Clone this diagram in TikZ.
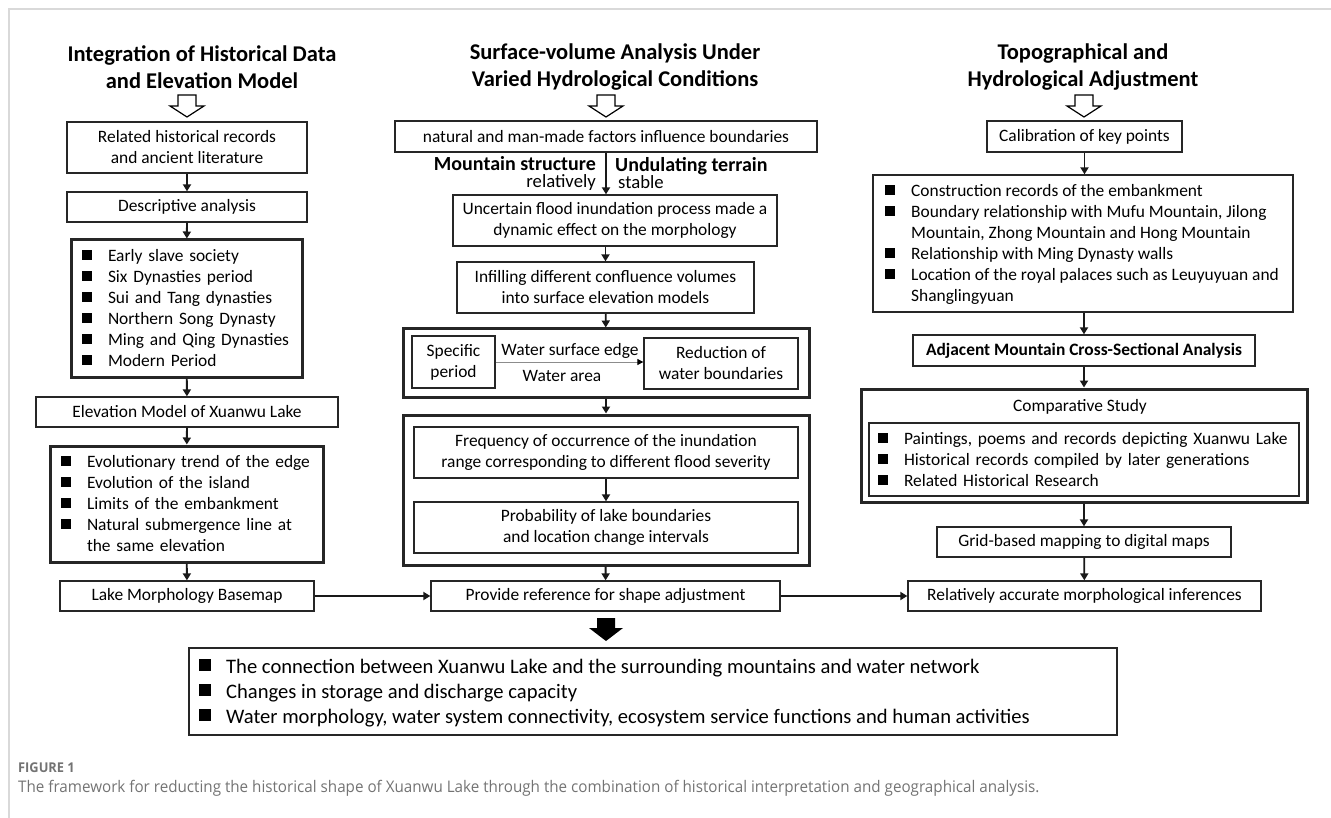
\documentclass[tikz,border=0pt]{standalone}
\usepackage{fontspec}
\setmainfont{Carlito}
\newfontfamily\capfont[FakeStretch=0.95]{Open Sans}
\usetikzlibrary{arrows.meta}
\def\bitem#1{\makebox[26pt][l]{\rule[1.5pt]{10pt}{10pt}}#1}
\def\bcont{\hspace*{26pt}}
\def\bigitem#1{\makebox[27pt][l]{\rule[2pt]{12pt}{12pt}}#1}
\def\hollowarrow#1{\draw[line width=1.2pt, fill=white] ({#1-9},95) -- ({#1+9},95) -- ({#1+9},106) -- ({#1+17},106) -- (#1,117) -- ({#1-17},106) -- ({#1-9},106) -- cycle;}

\begin{document}
\begin{tikzpicture}[x=1pt, y=-1pt,
	box/.style={draw=black!85, line width=1.3pt, inner sep=0pt, align=center, font=\fontsize{17.4}{21}\selectfont},
	thickbox/.style={box, line width=3pt},
	title/.style={font=\fontsize{22.5}{27}\selectfont\bfseries, align=center},
	lbl/.style={inner sep=0pt, font=\fontsize{17.4}{21}\selectfont},
	side/.style={inner sep=0pt, font=\fontsize{18.7}{17}\selectfont},
	arr/.style={line width=1.8pt, draw=black!90, -{Triangle[width=8pt,length=7pt]}}]
	%%%%% START %%%%%
	\useasboundingbox (0,0) rectangle (1331,818);
	\draw[black!15, line width=1.5pt] (9,818) -- (9,9) -- (1331,9);
	
	% titles
	\node[title] (t1) at (202,67) {Integration of Historical Data\\and Elevation Model};
	\node[title] (t2) at (615,67) {Surface-volume Analysis Under\\Varied Hydrological Conditions};
	\node[title] (t3) at (1083,67) {Topographical and\\Hydrological Adjustment};
	\foreach \cx in {187,606,1084} {\hollowarrow{\cx}}
	
	% left column
	\node[box, minimum width=240, minimum height=51] (rec) at (187,147.5) {Related historical records\\and ancient literature};
	\node[box, minimum width=240, minimum height=30] (desc) at (187,207) {Descriptive analysis};
	\node[thickbox, align=left, inner xsep=11pt, text width=209pt, minimum height=137] (dyn) at (186.5,308.5)
		{\bitem{Early slave society}\\\bitem{Six Dynasties period}\\\bitem{Sui and Tang dynasties}\\\bitem{Northern Song Dynasty}\\\bitem{Ming and Qing Dynasties}\\\bitem{Modern Period}};
	\node[box, minimum width=302, minimum height=30] (elev) at (187,412) {Elevation Model of Xuanwu Lake};
	\node[thickbox, align=left, inner xsep=11pt, text width=251pt, minimum height=116] (evo) at (186.5,504)
		{\bitem{Evolutionary trend of the edge}\\\bitem{Evolution of the island}\\\bitem{Limits of the embankment}\\\bitem{Natural submergence line at}\\\bcont the same elevation};
	\node[box, minimum width=254, minimum height=30] (base) at (187,596) {Lake Morphology Basemap};
	
	\draw[arr] (rec) -- (desc);
	\draw[arr] (desc) -- (dyn);
	\draw[arr] (dyn) -- (elev);
	\draw[arr] (elev) -- (evo);
	\draw[arr] (evo) -- (base);
	
	% middle column
	\node[box, minimum width=422, minimum height=31] (nat) at (606,136.5) {natural and man-made factors influence boundaries};
	\node[side, anchor=east, align=right] (ms) at (596,173) {\textbf{\fontsize{20}{17}\selectfont Mountain structure}\\relatively};
	\node[side, anchor=west, align=left] (ut) at (615,173) {\textbf{\fontsize{20}{17}\selectfont Undulating terrain}\\\hspace*{3pt}stable};
	\node[box, minimum width=324, minimum height=51] (unc) at (615,220.5) {Uncertain flood inundation process made a\\dynamic effect on the morphology};
	\node[box, minimum width=297, minimum height=51] (inf) at (605.5,287.5) {Infilling different confluence volumes\\into surface elevation models};
	\node[thickbox, minimum width=406, minimum height=68] (spec) at (606,363) {};
	\node[box, minimum width=83, minimum height=52] (sp) at (453.5,362) {Specific\\period};
	\node[box, minimum width=154, minimum height=51] (red) at (721,363.5) {Reduction of\\water boundaries};
	\node[lbl] (wse) at (570,351) {Water surface edge};
	\node[lbl] (wa) at (562,376) {Water area};
	\node[thickbox, minimum width=406, minimum height=150] (freq) at (606,490) {};
	\node[box, minimum width=384, minimum height=51] (fr) at (606,452.5) {Frequency of occurrence of the inundation\\range corresponding to different flood severity};
	\node[box, minimum width=384, minimum height=51] (pr) at (606,527.5) {Probability of lake boundaries\\and location change intervals};
	\node[box, minimum width=349, minimum height=30] (prov) at (605.5,596) {Provide reference for shape adjustment};
	
	\draw[arr] (nat.south) -- (nat.south |- unc.north);
	\draw[arr] (unc.south -| inf.north) -- (inf.north);
	\draw[arr] (inf) -- (spec);
	\draw[draw=black!45, line width=0.8pt, -{Triangle[width=6pt,length=6pt,color=black]}] (sp.east) -- (sp.east -| red.west);
	\draw[arr] (spec) -- (freq);
	\draw[arr] (fr) -- (pr);
	\draw[arr] (freq) -- (prov);
	
	% right column
	\node[box, minimum width=195, minimum height=31] (cal) at (1084.5,136.5) {Calibration of key points};
	\node[box, minimum width=420, minimum height=137] (lst) at (1083,243.5) {};
	\node[lbl, anchor=west, align=left] (lstt) at (885,244.5)
		{\bitem{Construction records of the embankment}\\\bitem{Boundary relationship with Mufu Mountain, Jilong}\\\bcont Mountain, Zhong Mountain and Hong Mountain\\\bitem{Relationship with Ming Dynasty walls}\\\bitem{Location of the royal palaces such as Leuyuyuan and}\\\bcont Shanglingyuan};
	\node[box, minimum width=342, minimum height=31, font=\fontsize{17.4}{21}\selectfont\bfseries] (adj) at (1084,350.5) {Adjacent Mountain Cross-Sectional Analysis};
	\node[thickbox, minimum width=446, minimum height=113] (cmp) at (1084,445.5) {};
	\node[lbl] (cmph) at (1080,407) {Comparative Study};
	\node[box, align=left, inner xsep=9pt, text width=412pt, minimum height=73] (cmpl) at (1084,459.5)
		{\bitem{Paintings, poems and records depicting Xuanwu Lake}\\\bitem{Historical records compiled by later generations}\\\bitem{Related Historical Research}};
	\node[box, minimum width=294, minimum height=30] (grid) at (1084,542) {Grid-based mapping to digital maps};
	\node[box, minimum width=353, minimum height=30] (rel) at (1084.5,596) {Relatively accurate morphological inferences};
	
	\draw[arr] (cal) -- (cal |- lst.north);
	\draw[arr] (lst.south -| adj.north) -- (adj);
	\draw[arr] (adj) -- (cmp);
	\draw[arr] (cmp) -- (grid);
	\draw[arr] (grid) -- (rel);
	
	% across and result
	\draw[arr] (base) -- (prov);
	\draw[arr] (prov) -- (rel);
	\fill[black] (597,618) -- (615,618) -- (615,628) -- (623,628) -- (606,641) -- (589,628) -- (597,628) -- cycle;
	\node[box, minimum width=928, minimum height=87] (res) at (653,691.5) {};
	\node[anchor=west, align=left, inner sep=0pt, font=\fontsize{20.6}{25}\selectfont] (rest) at (199,693)
		{\bigitem{The connection between Xuanwu Lake and the surrounding mountains and water network}\\\bigitem{Changes in storage and discharge capacity}\\\bigitem{Water morphology, water system connectivity, ecosystem service functions and human activities}};
	
	% caption
	\node[anchor=west, inner sep=0pt, text=black!55, font=\capfont\bfseries\fontsize{13.5}{15}\selectfont] (fig) at (18,768) {FIGURE 1};
	\node[anchor=west, inner sep=0pt, text=black!55, font=\capfont\fontsize{16}{18}\selectfont] (cap) at (18,788) {The framework for reducting the historical shape of Xuanwu Lake through the combination of historical interpretation and geographical analysis.};
	%%%%% END %%%%%
\end{tikzpicture}
\end{document}
